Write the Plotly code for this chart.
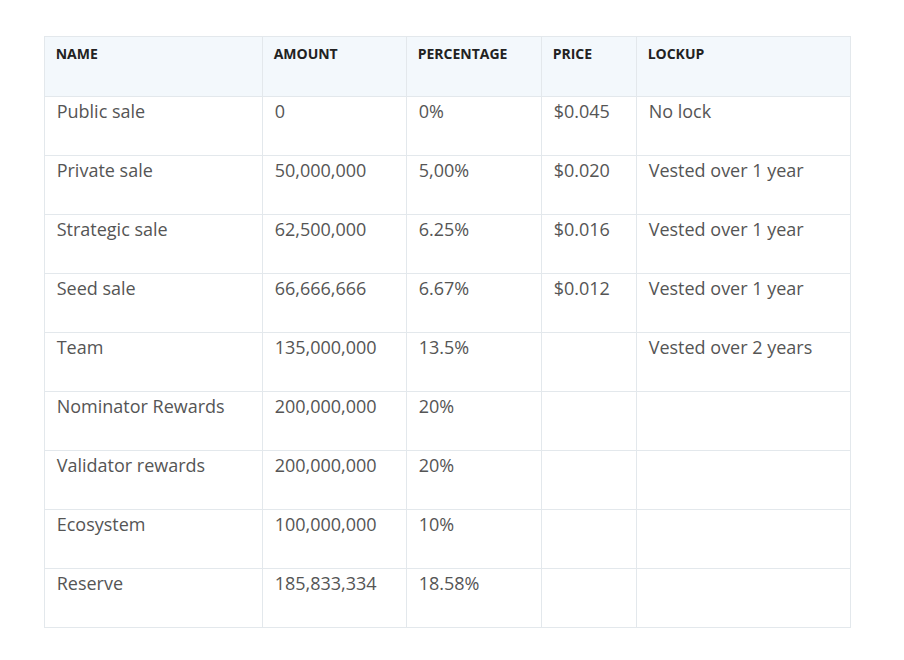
import plotly.graph_objects as go

headers = ["NAME", "AMOUNT", "PERCENTAGE", "PRICE", "LOCKUP"]
names = ["Public sale", "Private sale", "Strategic sale", "Seed sale", "Team",
         "Nominator Rewards", "Validator rewards", "Ecosystem", "Reserve"]
amounts = ["0", "50,000,000", "62,500,000", "66,666,666", "135,000,000",
           "200,000,000", "200,000,000", "100,000,000", "185,833,334"]
percentages = ["0%", "5,00%", "6.25%", "6.67%", "13.5%", "20%", "20%", "10%", "18.58%"]
prices = ["$0.045", "$0.020", "$0.016", "$0.012", "", "", "", "", ""]
lockups = ["No lock", "Vested over 1 year", "Vested over 1 year", "Vested over 1 year",
           "Vested over 2 years", "", "", "", ""]

W, H = 904, 660
x0, x1, ytop = 36, 842, 28
col_widths = [218, 144, 135, 95, 214]

pad = " "
fig = go.Figure(go.Table(
    columnwidth=col_widths,
    domain=dict(x=[x0 / W, x1 / W], y=[0, 1 - ytop / H]),
    header=dict(
        values=["<b>" + pad + h + "</b>" for h in headers],
        fill_color="#f3f8fc",
        line=dict(color="#e3e8ec", width=1),
        font=dict(family="Open Sans", size=14, color="#222"),
        align="left",
        height=60,
    ),
    cells=dict(
        values=[[pad + v for v in col] for col in [names, amounts, percentages, prices, lockups]],
        fill_color="white",
        line=dict(color="#e3e8ec", width=1),
        font=dict(family="Open Sans", size=18, color="#555"),
        align="left",
        height=59,
    ),
))
fig.update_layout(width=W, height=H, margin=dict(l=0, r=0, t=0, b=0),
                  paper_bgcolor="white")
fig.write_html("out.html")
